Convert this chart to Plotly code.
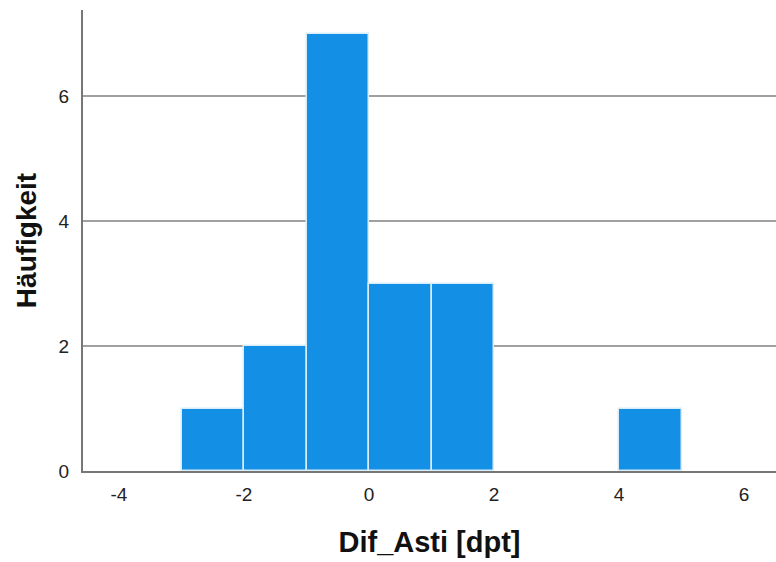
import plotly.graph_objects as go

bin_left = [-3, -2, -1, 0, 1, 2, 3, 4]
counts = [1, 2, 7, 3, 3, 0, 0, 1]
bin_width = 1
x_ticks = [-4, -2, 0, 2, 4, 6]
x_labels = ["-4", "-2", "0", "2", "4", "6"]
y_ticks = [0, 2, 4, 6]

centers = [b + bin_width / 2 for b in bin_left]
line_w = [1.5 if c > 0 else 0 for c in counts]

fig = go.Figure()
fig.add_trace(go.Bar(
    x=centers, y=counts, width=[bin_width] * len(centers),
    marker=dict(color="#1390E6", line=dict(color="#D8ECFA", width=line_w)),
    showlegend=False,
))

fig.update_layout(
    width=776, height=562,
    margin=dict(l=83, r=0, t=10, b=91),
    plot_bgcolor="white", paper_bgcolor="white",
    bargap=0,
    font=dict(family="Arial, Liberation Sans, sans-serif", color="#222222", size=19),
    xaxis=dict(
        range=[-4.576, 6.512], tickvals=x_ticks, ticktext=x_labels, showgrid=False, zeroline=False,
        showline=True, linecolor="#777777", linewidth=2, ticks="", ticklabelstandoff=5,
        tickfont=dict(size=19),
        title=dict(text="<b>Dif_Asti [dpt]</b>", font=dict(size=29, color="#111111"), standoff=28),
    ),
    yaxis=dict(
        range=[0, 7.376], tickvals=y_ticks, showgrid=True, gridcolor="#A0A0A0", gridwidth=1.5,
        zeroline=False, showline=True, linecolor="#777777", linewidth=2, ticks="", ticklabelstandoff=8,
        tickfont=dict(size=19),
        title=dict(text="<b>Häufigkeit</b>", font=dict(size=28, color="#111111"), standoff=14),
    ),
)

fig.write_html("out.html")
